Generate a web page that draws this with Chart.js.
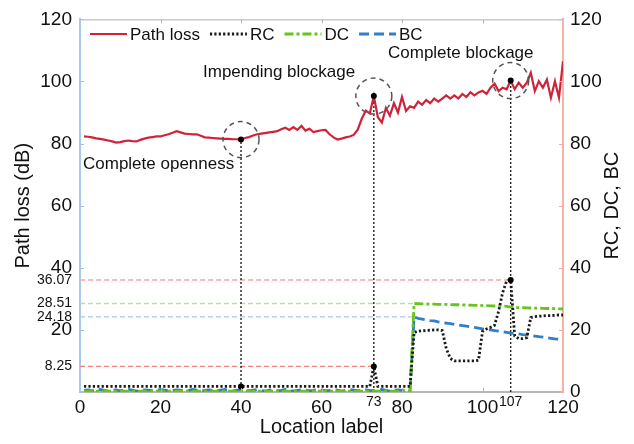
<!DOCTYPE html>
<html><head><meta charset="utf-8">
<script src="https://cdn.jsdelivr.net/npm/chart.js@4.4.1/dist/chart.umd.min.js"></script>
<style>html,body{margin:0;padding:0;background:#fff;overflow:hidden}</style>
</head><body>
<canvas id="c" width="634" height="444"></canvas>
<script>
// ---------- data ----------
const locations = [1,2,3,4,5,6,7,8,9,10,11,12,13,14,15,16,17,18,19,20,21,22,23,24,25,26,27,28,29,30,
31,32,33,34,35,36,37,38,39,40,41,42,43,44,45,46,47,48,49,50,51,52,53,54,55,56,57,58,59,60,
61,62,63,64,65,66,67,68,69,70,71,72,73,74,75,76,77,78,79,80,81,82,83,84,85,86,87,88,89,90,
91,92,93,94,95,96,97,98,99,100,101,102,103,104,105,106,107,108,109,110,111,112,113,114,115,116,117,118,119,120];

const pathLoss = [82.3,82.2,82.0,81.7,81.5,81.3,81.0,80.7,80.3,80.5,80.8,81.0,80.8,80.7,81.2,81.6,81.9,82.1,82.3,82.3,
82.7,83.0,83.5,84.0,83.6,83.2,83.1,83.0,83.0,82.5,82.0,81.9,81.8,81.7,81.6,81.5,81.5,81.4,81.4,81.3,
81.8,82.1,82.6,83.0,83.2,83.4,83.6,83.8,84.0,84.6,85.1,84.4,85.3,84.4,85.7,84.2,84.8,83.7,84.0,84.3,
84.4,83.0,82.0,81.3,81.6,82.0,82.3,82.8,84.5,88.0,90.6,89.7,95.3,88.5,86.8,91.5,89.0,93.0,90.0,95.0,
90.5,92.0,91.5,93.5,92.5,94.0,93.0,94.5,93.5,94.5,95.5,94.5,95.5,94.5,96.0,95.0,96.5,95.5,96.5,97.0,
96.0,98.0,99.3,96.9,98.0,97.5,100.3,97.5,99.6,98.0,99.6,102.8,96.9,100.1,98.0,100.6,94.8,100.1,94.8,106.5];

const rc = [1.8,1.8,1.8,1.8,1.8,1.8,1.8,1.8,1.8,1.8,1.8,1.8,1.8,1.8,1.8,1.8,1.8,1.8,1.8,1.8,
1.8,1.8,1.8,1.8,1.8,1.8,1.8,1.8,1.8,1.8,1.8,1.8,1.8,1.8,1.8,1.8,1.8,1.8,1.8,1.8,
1.8,1.8,1.8,1.8,1.8,1.8,1.8,1.8,1.8,1.8,1.8,1.8,1.8,1.8,1.8,1.8,1.8,1.8,1.8,1.8,
1.8,1.8,1.8,1.8,1.8,1.8,1.8,1.8,1.8,1.8,1.8,1.8,8.25,1.8,1.8,1.8,1.8,1.8,1.8,1.8,
1.8,1.8,19.2,19.6,19.7,19.8,19.9,20.0,20.0,19.8,14.0,10.8,10.0,10.0,10.0,10.0,10.0,10.0,10.2,19.5,
20.3,20.8,21.5,26.0,32.0,35.8,36.07,18.0,17.2,17.2,17.5,24.0,24.3,24.4,24.5,24.6,24.6,24.7,24.8,24.8];

const dc = [0.3,0.3,0.3,0.3,0.3,0.3,0.3,0.3,0.3,0.3,0.3,0.3,0.3,0.3,0.3,0.3,0.3,0.3,0.3,0.3,
0.3,0.3,0.3,0.3,0.3,0.3,0.3,0.3,0.3,0.3,0.3,0.3,0.3,0.3,0.3,0.3,0.3,0.3,0.3,0.3,
0.3,0.3,0.3,0.3,0.3,0.3,0.3,0.3,0.3,0.3,0.3,0.3,0.3,0.3,0.3,0.3,0.3,0.3,0.3,0.3,
0.3,0.3,0.3,0.3,0.3,0.3,0.3,0.3,0.3,0.3,0.3,0.3,0.3,0.3,0.3,0.3,0.3,0.3,0.3,0.3,
0.3,0.3,28.51,28.45,28.4,28.35,28.3,28.3,28.25,28.2,28.2,28.15,28.1,28.1,28.05,28.0,27.95,27.9,27.9,27.85,
27.8,27.75,27.7,27.7,27.65,27.6,27.3,27.2,27.2,27.15,27.1,27.05,27.0,27.0,26.95,26.9,26.9,26.85,26.8,26.8];

const bc = [0.5,0.7,0.4,0.6,0.8,0.5,0.3,0.6,0.7,0.4,0.5,0.8,0.6,0.3,0.5,0.7,0.6,0.4,0.5,0.8,
0.6,0.4,0.5,0.7,0.6,0.3,0.5,0.8,0.6,0.4,0.5,0.7,0.5,0.4,0.6,0.8,0.5,0.3,0.6,0.7,
0.5,0.4,0.6,0.8,0.5,0.3,0.6,0.7,0.4,0.5,0.8,0.6,0.3,0.5,0.7,0.6,0.4,0.5,0.8,0.6,
0.4,0.5,0.7,0.6,0.3,0.5,0.8,0.6,0.4,0.5,0.7,0.5,0.4,0.6,0.8,0.5,0.3,0.6,0.7,0.5,
0.4,0.5,24.18,23.7,23.5,23.2,23.0,22.9,22.6,22.4,22.2,22.0,21.8,21.6,21.4,21.2,21.0,20.8,20.6,20.3,
20.1,20.0,19.8,19.6,19.4,19.2,19.0,18.9,18.7,18.5,18.4,18.2,18.0,17.8,17.7,17.5,17.3,17.1,17.0,16.8];

const keyLocations = [40, 73, 107];
const annotationTexts = ['Complete openness', 'Impending blockage', 'Complete blockage'];
const refValues = [36.07, 28.51, 24.18, 8.25];
const refEnds = [107, 83, 83, 73];
const xTickValues = [0, 20, 40, 60, 73, 80, 100, 107, 120];
const xSmallTicks = [73, 107];
const yTickValues = [0, 8.25, 20, 24.18, 28.51, 36.07, 40, 60, 80, 100, 120];
const ySmallTicks = [8.25, 24.18, 28.51, 36.07];
const y2TickValues = [0, 20, 40, 60, 80, 100, 120];
const seriesNames = ['Path loss', 'RC', 'DC', 'BC'];

// ---------- styling ----------
const FONT = "'Liberation Sans', Arial, Helvetica, sans-serif";
const RED = '#d0233a', BLACK = '#1a1a1a', GREEN = '#66c41c', BLUE = '#2e7fcc';
const refColors = ['#f4a8a8', '#b4e2a6', '#a9c7ea', '#f27d7d'];

const pts = arr => locations.map((x, i) => ({x, y: arr[i]}));
const valAt = (arr, loc) => arr[locations.indexOf(loc)];

const datasets = [
  {label: seriesNames[0], data: pts(pathLoss), yAxisID: 'y', borderColor: RED, borderWidth: 2.2, pointRadius: 0, order: 2, tension: 0},
  {label: seriesNames[1], data: pts(rc), yAxisID: 'y2', borderColor: BLACK, borderWidth: 2.8, borderDash: [2.2, 2.2], pointRadius: 0, order: 3},
  {label: seriesNames[2], data: pts(dc), yAxisID: 'y2', borderColor: GREEN, borderWidth: 2.8, borderDash: [9, 3, 3, 3], pointRadius: 0, order: 4},
  {label: seriesNames[3], data: pts(bc), yAxisID: 'y2', borderColor: BLUE, borderWidth: 2.8, borderDash: [10, 5], pointRadius: 0, order: 5},
];
// reference horizontal dashed lines
refValues.forEach((v, i) => datasets.push({
  label: 'ref' + i, data: [{x: 0, y: v}, {x: refEnds[i], y: v}], yAxisID: 'y2',
  borderColor: refColors[i], borderWidth: 1.3, borderDash: [5, 3], pointRadius: 0, order: 10
}));
// vertical dotted drop lines
keyLocations.forEach((loc, i) => datasets.push({
  label: 'drop' + i, data: [{x: loc, y: 0}, {x: loc, y: valAt(pathLoss, loc)}], yAxisID: 'y',
  borderColor: '#222', borderWidth: 1.4, borderDash: [2, 2], pointRadius: 0, order: 9
}));
// marker dots
datasets.push({
  label: 'markers', type: 'scatter', yAxisID: 'y',
  data: keyLocations.map(l => ({x: l, y: valAt(pathLoss, l)})).concat(keyLocations.map(l => ({x: l, y: valAt(rc, l)}))),
  pointRadius: 3, pointBackgroundColor: '#000', pointBorderWidth: 0, showLine: false, order: 1
});

const inwardTicks = {
  id: 'extras',
  beforeDraw(chart) {
    const c = chart.ctx; c.save(); c.fillStyle = '#fff'; c.fillRect(0, 0, chart.width, chart.height); c.restore();
  },
  afterDatasetsDraw(chart) {
    const c = chart.ctx, xs = chart.scales.x, ys = chart.scales.y;
    c.save();
    c.strokeStyle = '#555'; c.lineWidth = 1.5; c.setLineDash([5, 4]);
    keyLocations.forEach(l => {
      c.beginPath(); c.arc(xs.getPixelForValue(l), ys.getPixelForValue(valAt(pathLoss, l)), 18, 0, Math.PI * 2); c.stroke();
    });
    c.restore();
  },
  afterDraw(chart) {
    const c = chart.ctx, a = chart.chartArea, xs = chart.scales.x, ys = chart.scales.y;
    c.save();
    // top border
    c.strokeStyle = '#b0b0b0'; c.lineWidth = 1; c.setLineDash([]);
    c.beginPath(); c.moveTo(a.left, a.top + 0.5); c.lineTo(a.right, a.top + 0.5); c.stroke();
    // inward tick marks
    [20, 40, 60, 80, 100].forEach(v => {
      const px = Math.round(xs.getPixelForValue(v)) + 0.5;
      c.beginPath(); c.moveTo(px, a.top); c.lineTo(px, a.top + 4); c.moveTo(px, a.bottom); c.lineTo(px, a.bottom - 4); c.stroke();
    });
    c.strokeStyle = '#9fc2e6';
    y2TickValues.forEach(v => { const py = Math.round(ys.getPixelForValue(v)) + 0.5; c.beginPath(); c.moveTo(a.left, py); c.lineTo(a.left + 4, py); c.stroke(); });
    c.strokeStyle = '#f3ad9c';
    y2TickValues.forEach(v => { const py = Math.round(ys.getPixelForValue(v)) + 0.5; c.beginPath(); c.moveTo(a.right, py); c.lineTo(a.right - 4, py); c.stroke(); });
    // axis titles
    c.fillStyle = '#111'; c.font = '20px ' + FONT; c.textAlign = 'center'; c.textBaseline = 'middle';
    c.fillText('Location label', (a.left + a.right) / 2, 427);
    c.save(); c.translate(23, (a.top + a.bottom) / 2); c.rotate(-Math.PI / 2); c.fillText('Path loss (dB)', 0, 0); c.restore();
    c.save(); c.translate(612, (a.top + a.bottom) / 2); c.rotate(-Math.PI / 2); c.fillText('RC, DC, BC', 0, 0); c.restore();
    // annotations
    c.font = '17px ' + FONT; c.textAlign = 'left';
    c.fillText(annotationTexts[0], 83, 164);
    c.fillText(annotationTexts[1], 203, 72);
    c.fillText(annotationTexts[2], 388, 53);
    // legend
    let lx = 90; const ly = 34;
    for (let i = 0; i < 4; i++) {
      const d = chart.data.datasets[i];
      c.strokeStyle = d.borderColor; c.lineWidth = d.borderWidth; c.setLineDash(d.borderDash || []);
      c.beginPath(); c.moveTo(lx, ly); c.lineTo(lx + 37, ly); c.stroke();
      c.setLineDash([]);
      c.fillStyle = '#111'; c.textBaseline = 'middle';
      c.fillText(d.label, lx + 40, ly + 1);
      lx += 40 + c.measureText(d.label).width + 10;
    }
    c.restore();
  }
};

new Chart(document.getElementById('c'), {
  type: 'line',
  data: {datasets},
  options: {
    responsive: false, animation: false, devicePixelRatio: 1,
    layout: {padding: {top: 14, left: 0, right: 0, bottom: 0}},
    plugins: {legend: {display: false}, tooltip: {enabled: false}},
    elements: {line: {borderCapStyle: 'butt'}},
    scales: {
      x: {
        type: 'linear', position: 'bottom', min: 0, max: 120,
        afterBuildTicks: s => { s.ticks = xTickValues.map(v => ({value: v})); },
        afterFit: s => { s.height = 52; },
        grid: {display: false, drawTicks: false},
        border: {display: true, color: '#b8b8b8', width: 2},
        ticks: {
          autoSkip: false, maxRotation: 0, minRotation: 0, padding: 4, color: '#111',
          callback: v => String(v),
          font: ctx => (ctx.tick && xSmallTicks.includes(ctx.tick.value)) ? {family: FONT, size: 14, lineHeight: 0.93} : {family: FONT, size: 19, lineHeight: 1.2}
        }
      },
      y: {
        type: 'linear', position: 'left', min: 0, max: 120,
        afterBuildTicks: s => { s.ticks = yTickValues.map(v => ({value: v})); },
        afterFit: s => { s.width = 80; },
        grid: {display: false, drawTicks: false},
        border: {display: true, color: '#a9c9ea', width: 2},
        ticks: {
          autoSkip: false, padding: 8, color: '#111',
          callback: v => v === 0 ? '' : String(v),
          font: ctx => (ctx.tick && ySmallTicks.includes(ctx.tick.value)) ? {family: FONT, size: 14} : {family: FONT, size: 19}
        }
      },
      y2: {
        type: 'linear', position: 'right', min: 0, max: 120,
        afterBuildTicks: s => { s.ticks = y2TickValues.map(v => ({value: v})); },
        afterFit: s => { s.width = 71; },
        grid: {display: false, drawTicks: false},
        border: {display: true, color: '#f4b3a3', width: 2},
        ticks: {autoSkip: false, padding: 7, color: '#111', callback: v => String(v), font: {family: FONT, size: 19}}
      }
    }
  },
  plugins: [inwardTicks]
});
</script>
</body></html>
